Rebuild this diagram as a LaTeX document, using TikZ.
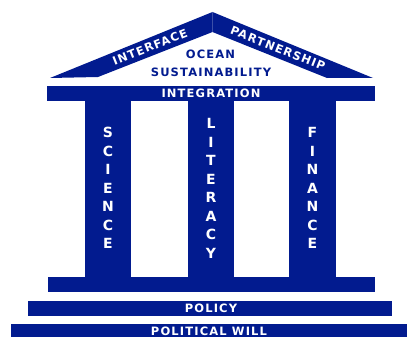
\documentclass[tikz,border=0pt]{standalone}
\usepackage{fontspec}
\usepackage{xcolor}
\usepackage{tikz}
\usetikzlibrary{positioning}
\newfontfamily\templefont{DejaVu Sans}[LetterSpace=10]
\definecolor{tpBlue}{HTML}{021B8F}
\tikzset{
  tp diagram/.style={x=1pt, y=-1pt,
    font=\templefont\bfseries\fontsize{11.5}{13}\selectfont},
  tp block/.style={fill=tpBlue, draw=none},
  tp label/.style={text=white, inner sep=0pt},
  tp title/.style={text=tpBlue, inner sep=0pt},
  tp pillar text/.style={tp label, align=center,
    font=\templefont\bfseries\fontsize{14}{18.5}\selectfont}
}

\begin{document}
\begin{tikzpicture}[tp diagram]
\useasboundingbox (0,0) rectangle (407,337);
% roof
\fill[tp block] (50,78) -- (212.5,12) -- (212.5,32) -- (98,77) -- cycle;
\fill[tp block] (212.5,12) -- (373,78) -- (327,78) -- (212.5,32) -- cycle;
\node[tp label, rotate=21.7] (interface) at (150,47) {INTERFACE};
\node[tp label, rotate=-21.7] (partner) at (278,48.5) {PARTNERSHIP};
\node[tp title] (ocean) at (210.5,54) {OCEAN};
\node[tp title] (sustain) at (211,72) {SUSTAINABILITY};
% beams and pillars
\fill[tp block] (47,86) rectangle (375,101);
\node[tp label] (integr) at (211,93.5) {INTEGRATION};
\foreach \xl/\xr in {85/131, 188/234, 289/336}
  \fill[tp block] (\xl,100) rectangle (\xr,278);
\node[tp pillar text] (science) at (108,188) {S\\C\\I\\E\\N\\C\\E};
\node[tp pillar text] (literacy) at (211,188.5) {L\\I\\T\\E\\R\\A\\C\\Y};
\node[tp pillar text] (finance) at (312.5,188) {F\\I\\N\\A\\N\\C\\E};
% base steps
\fill[tp block] (48,277) rectangle (375,292);
\fill[tp block] (28,301) rectangle (392,316);
\node[tp label] (policy) at (211,308.5) {POLICY};
\fill[tp block] (11,324) rectangle (407,337);
\node[tp label] (polwill) at (209,331.5) {POLITICAL WILL};
\end{tikzpicture}
\end{document}
